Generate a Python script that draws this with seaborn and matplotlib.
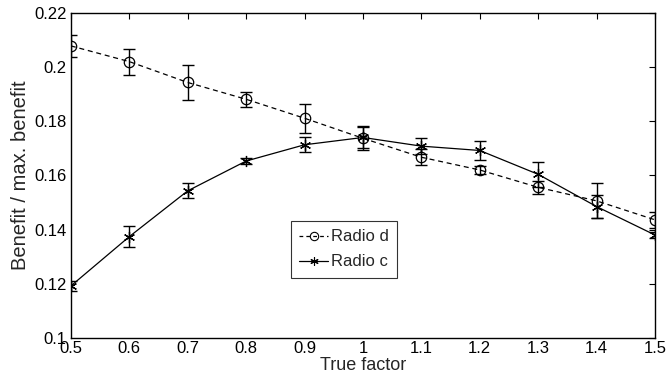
import numpy as np
import pandas as pd
import matplotlib
matplotlib.use("Agg")
import matplotlib.pyplot as plt
import seaborn as sns
from matplotlib.ticker import FuncFormatter, MultipleLocator

# values
true_factor = [0.5, 0.6, 0.7, 0.8, 0.9, 1.0, 1.1, 1.2, 1.3, 1.4, 1.5]
radio_d = [0.2078, 0.2020, 0.1943, 0.1881, 0.1811, 0.1737, 0.1667, 0.1620, 0.1556, 0.1506, 0.1436]
radio_d_err = [0.0040, 0.0048, 0.0063, 0.0027, 0.0054, 0.0045, 0.0030, 0.0015, 0.0025, 0.0065, 0.0030]
radio_c = [0.1192, 0.1374, 0.1543, 0.1653, 0.1713, 0.1740, 0.1708, 0.1692, 0.1604, 0.1485, 0.1380]
radio_c_err = [0.0020, 0.0040, 0.0028, 0.0012, 0.0027, 0.0040, 0.0030, 0.0035, 0.0047, 0.0043, 0.0012]

sns.set_theme(style="white")
plt.rcParams.update({
    "font.family": ["Liberation Sans", "DejaVu Sans"],
    "font.size": 12,
    "axes.linewidth": 1.0,
    "axes.edgecolor": "black",
    "xtick.direction": "in",
    "ytick.direction": "in",
    "xtick.top": True,
    "ytick.right": True,
    "xtick.major.size": 4,
    "ytick.major.size": 4,
    "xtick.major.width": 0.8,
    "ytick.major.width": 0.8,
    "xtick.major.pad": 2,
    "ytick.major.pad": 3,
    "xtick.color": "black",
    "ytick.color": "black",
    "xtick.labelsize": 12,
    "ytick.labelsize": 12,
})

fig = plt.figure(figsize=(6.69, 3.78), dpi=100)
ax = fig.add_axes([0.106, 0.106, 0.873, 0.86])

asterisk = (6, 2, 0)

# Radio d: dashed line, open circles
sns.lineplot(x=true_factor, y=radio_d, ax=ax, color="black", linewidth=0.9,
             linestyle=(0, (4, 3)), marker="o", markersize=7.5,
             markerfacecolor="none", markeredgecolor="black", markeredgewidth=0.9)
# Radio c: solid line, asterisks
sns.lineplot(x=true_factor, y=radio_c, ax=ax, color="black", linewidth=0.9,
             linestyle="-", marker=asterisk, markersize=8,
             markeredgecolor="black", markeredgewidth=0.9)

ax.errorbar(true_factor, radio_d, yerr=radio_d_err, fmt="none",
            ecolor="black", elinewidth=1.0, capsize=4.5, capthick=1.0)
ax.errorbar(true_factor, radio_c, yerr=radio_c_err, fmt="none",
            ecolor="black", elinewidth=1.0, capsize=4.5, capthick=1.0)

ax.set_xlim(0.5, 1.5)
ax.set_ylim(0.1, 0.22)
ax.xaxis.set_major_locator(MultipleLocator(0.1))
ax.yaxis.set_major_locator(MultipleLocator(0.02))
fmt = FuncFormatter(lambda v, p: "%g" % round(v, 4))
ax.xaxis.set_major_formatter(fmt)
ax.yaxis.set_major_formatter(fmt)
ax.set_xlabel("True factor", fontsize=13, labelpad=1)
ax.set_ylabel("Benefit / max. benefit", fontsize=14.5, labelpad=3)
for s in ax.spines.values():
    s.set_visible(True)
    s.set_color("black")

h_d, = ax.plot([], [], color="black", linestyle=(0, (3, 2.5)), linewidth=0.9,
               marker="o", markersize=6, markerfacecolor="none", markeredgewidth=0.8)
h_c, = ax.plot([], [], color="black", linestyle="-", linewidth=0.9,
               marker=asterisk, markersize=6, markeredgewidth=0.8)
leg = ax.legend([h_d, h_c], ["Radio d", "Radio c"],
                loc="lower left", bbox_to_anchor=(0.377, 0.185),
                frameon=True, fancybox=False, edgecolor="black",
                handlelength=1.7, handletextpad=0.2, borderpad=0.5,
                labelspacing=0.6, borderaxespad=0, fontsize=12)
leg.get_frame().set_linewidth(0.8)

fig.savefig("out.png", dpi=100)
